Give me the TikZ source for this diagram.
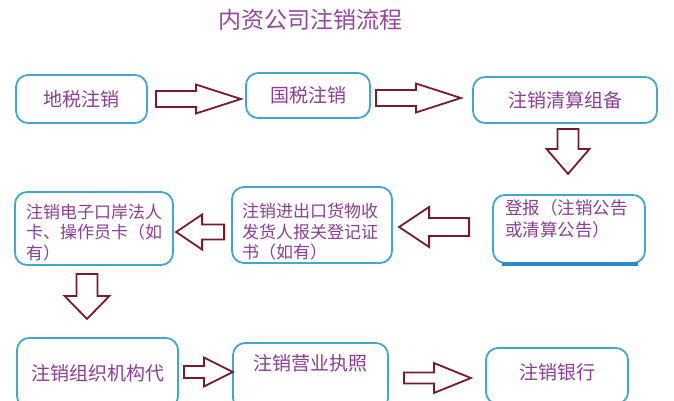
\documentclass[tikz,border=0pt]{standalone}
\usepackage{fontspec}
\newfontfamily\cjk{Noto Sans CJK SC}

\definecolor{boxblue}{RGB}{64,168,206}
\definecolor{barblue}{RGB}{40,140,210}
\definecolor{arrred}{RGB}{122,26,42}
\definecolor{txtpurple}{RGB}{140,62,150}
\definecolor{ttlpurple}{RGB}{150,70,160}

\begin{document}
\begin{tikzpicture}[x=1pt,y=-1pt,
  box/.style={draw=boxblue,line width=1.8pt,rounded corners=12pt,fill=white,
              inner sep=0pt,text=txtpurple,
              font=\cjk\fontsize{19}{22}\selectfont},
  multi/.style={align=left,font=\cjk\fontsize{17}{20.5}\selectfont},
  arr/.style={draw=arrred,line width=1.8pt,fill=white,line join=miter},
  pics/blk/.style n args={4}{code={
    \draw[arr] (0,-#3) -- ({#1-#2},-#3) -- ({#1-#2},-#4) -- (#1,0)
      -- ({#1-#2},#4) -- ({#1-#2},#3) -- (0,#3) -- cycle;}},
]
  \useasboundingbox (0,0) rectangle (674,400);
  \clip (0,0) rectangle (674,400);

  % Title
  \node[font=\cjk\fontsize{23}{26}\selectfont,text=ttlpurple] (title) at (310,20)
    {内资公司注销流程};

  % Row 1
  \node[box,minimum width=131,minimum height=48] (b1) at (81.5,99) {地税注销};
  \node[box,minimum width=124,minimum height=45] (b2) at (308,95.5) {国税注销};
  \node[box,minimum width=184,minimum height=46] (b3) at (565,100) {注销清算组备};

  % Row 2
  \node[box,multi,font=\cjk\fontsize{17.5}{22}\selectfont,text width=128,
        minimum width=152,minimum height=68,text depth=44.5] (b4) at (569,229)
    {登报（注销公告\\或清算公告）};
  \draw[barblue,line width=3.5pt] ([xshift=10]b4.south west) -- ([xshift=-8]b4.south east);
  \node[box,multi,text width=140,minimum width=160,minimum height=76,text height=28.5]
    (b5) at (312,225) {注销进出口货物收\\发货人报关登记证\\书（如有）};
  \node[box,multi,text width=136,minimum width=158,minimum height=73,text height=22.5]
    (b6) at (94,228.5) {注销电子口岸法人\\卡、操作员卡（如\\有）};

  % Row 3
  \node[box,minimum width=161,minimum height=70] (b7) at (97.5,373) {注销组织机构代};
  \node[box,minimum width=155,minimum height=67,text height=16,text depth=28.6]
    (b8) at (310.5,376.5) {注销营业执照};
  \node[box,minimum width=142,minimum height=56,text height=16,text depth=9.6]
    (b9) at (557,376) {注销银行};

  % Block arrows
  \pic at ([xshift=8]b1.east) {blk={85}{45}{8}{14.5}};
  \pic at ([shift={(5,2.5)}]b2.east) {blk={85}{45}{8}{14.5}};
  \pic[rotate=-90] at ([shift={(3,5)}]b3.south) {blk={45}{25}{10.5}{21.5}};
  \pic[rotate=180] at ([shift={(-23,-2)}]b4.west) {blk={70}{30}{9}{20}};
  \pic[rotate=180] at ([shift={(-7,7)}]b5.west) {blk={48}{26}{7.5}{17.5}};
  \pic[rotate=-90] at ([shift={(-7,8)}]b6.south) {blk={45}{23}{10.5}{22.5}};
  \pic at ([shift={(5,-1)}]b7.east) {blk={49}{29}{6}{14.5}};
  \pic at ([shift={(15,1.5)}]b8.east) {blk={67}{37}{5.5}{15}};
\end{tikzpicture}
\end{document}
